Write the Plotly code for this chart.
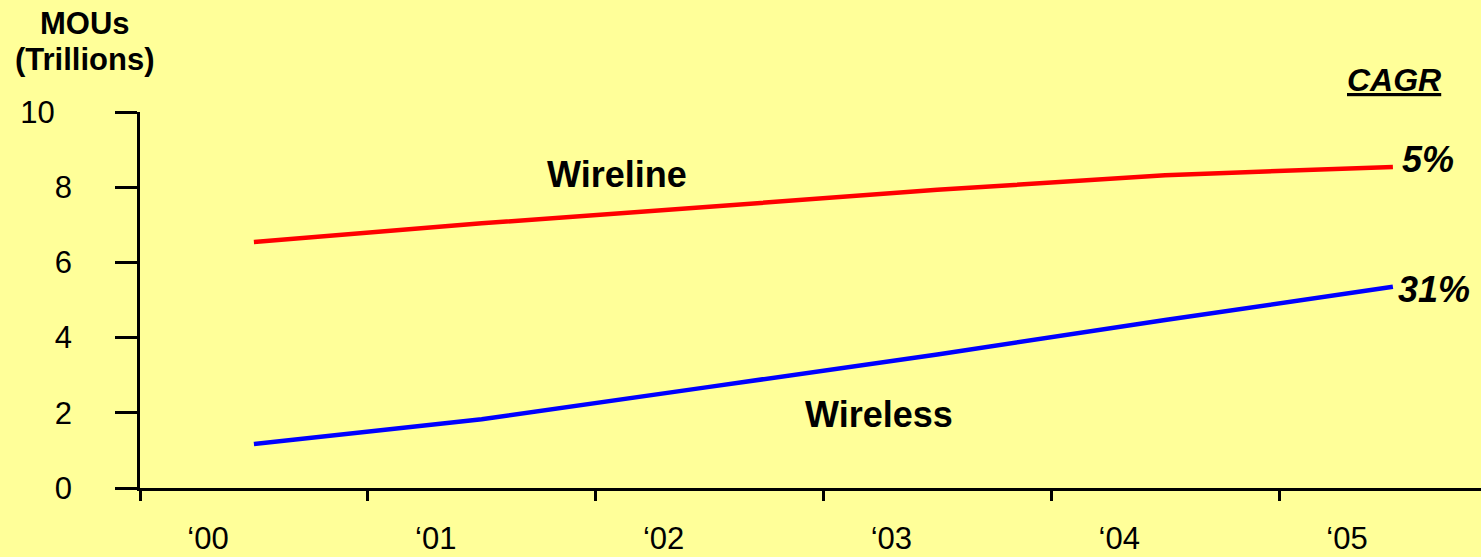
import plotly.graph_objects as go

years = ["‘00", "‘01", "‘02", "‘03", "‘04", "‘05"]
wireline = [6.54, 7.04, 7.48, 7.93, 8.32, 8.54]
wireless = [1.17, 1.83, 2.69, 3.55, 4.47, 5.35]
y_ticks = [0, 2, 4, 6, 8, 10]
y_tick_text = ["0", "2", "4", "6", "8", "10\u00a0\u00a0"]

FONT = "Arial, 'Liberation Sans', sans-serif"
BG = "#FFFF99"

# plot geometry (pixels)
L, T, B = 140, 112, 69
W, H = 1481, 557
PX_PER_CAT = 227.8
x_idx = list(range(len(years)))
x_left = -0.5
x_right = x_left + (W - L) / PX_PER_CAT

fig = go.Figure()
fig.add_trace(go.Scatter(x=x_idx, y=wireline, mode="lines", name="Wireline",
                         line=dict(color="#FF0000", width=4.5)))
fig.add_trace(go.Scatter(x=x_idx, y=wireless, mode="lines", name="Wireless",
                         line=dict(color="#0000FF", width=4.5)))

def pxp(px):
    return (px - L) / (W - L)

def pyp(py):
    return (H - B - py) / (H - B - T)

anns = [
    ("<b>MOUs</b>", 85, 23, 31),
    ("<b>(Trillions)</b>", 85, 60, 31),
    ("<b>Wireline</b>", 617, 175, 36),
    ("<b>Wireless</b>", 879, 414, 36),
    ("<b><i><u>CAGR</u></i></b>", 1394, 80, 32),
    ("<b><i>5%</i></b>", 1428, 159, 36),
    ("<b><i>31%</i></b>", 1434, 289, 36),
]
for text, px, py, size in anns:
    fig.add_annotation(text=text, x=pxp(px), y=pyp(py), xref="paper", yref="paper",
                       showarrow=False, xanchor="center", yanchor="middle",
                       font=dict(family=FONT, size=size, color="black"))

fig.update_layout(
    width=W, height=H,
    margin=dict(l=L, r=0, t=T, b=B, pad=0, autoexpand=False),
    paper_bgcolor=BG, plot_bgcolor=BG,
    showlegend=False,
    font=dict(family=FONT, color="black", size=31),
)
fig.update_xaxes(
    automargin=False,
    range=[x_left, x_right],
    tickmode="array",
    tickvals=[i - 0.5 for i in x_idx],
    ticktext=years,
    ticklabelshift=68,
    ticklabelstandoff=11,
    ticks="outside", ticklen=10, tickwidth=2.5, tickcolor="black",
    showline=True, linecolor="black", linewidth=2.5,
    showgrid=False, zeroline=False,
    tickfont=dict(family=FONT, size=31, color="black"),
)
fig.update_yaxes(
    automargin=False,
    range=[0, 10],
    tickmode="array",
    tickvals=y_ticks,
    ticktext=y_tick_text,
    ticks="outside", ticklen=22, tickwidth=2.5, tickcolor="black",
    ticklabelstandoff=37,
    showline=True, linecolor="black", linewidth=2.5,
    showgrid=False, zeroline=False,
    tickfont=dict(family=FONT, size=31, color="black"),
)

fig.write_html(
    "out.html",
    config={"displayModeBar": False},
    post_script="document.body.style.margin='0';document.body.style.background='#FFFF99';",
)
